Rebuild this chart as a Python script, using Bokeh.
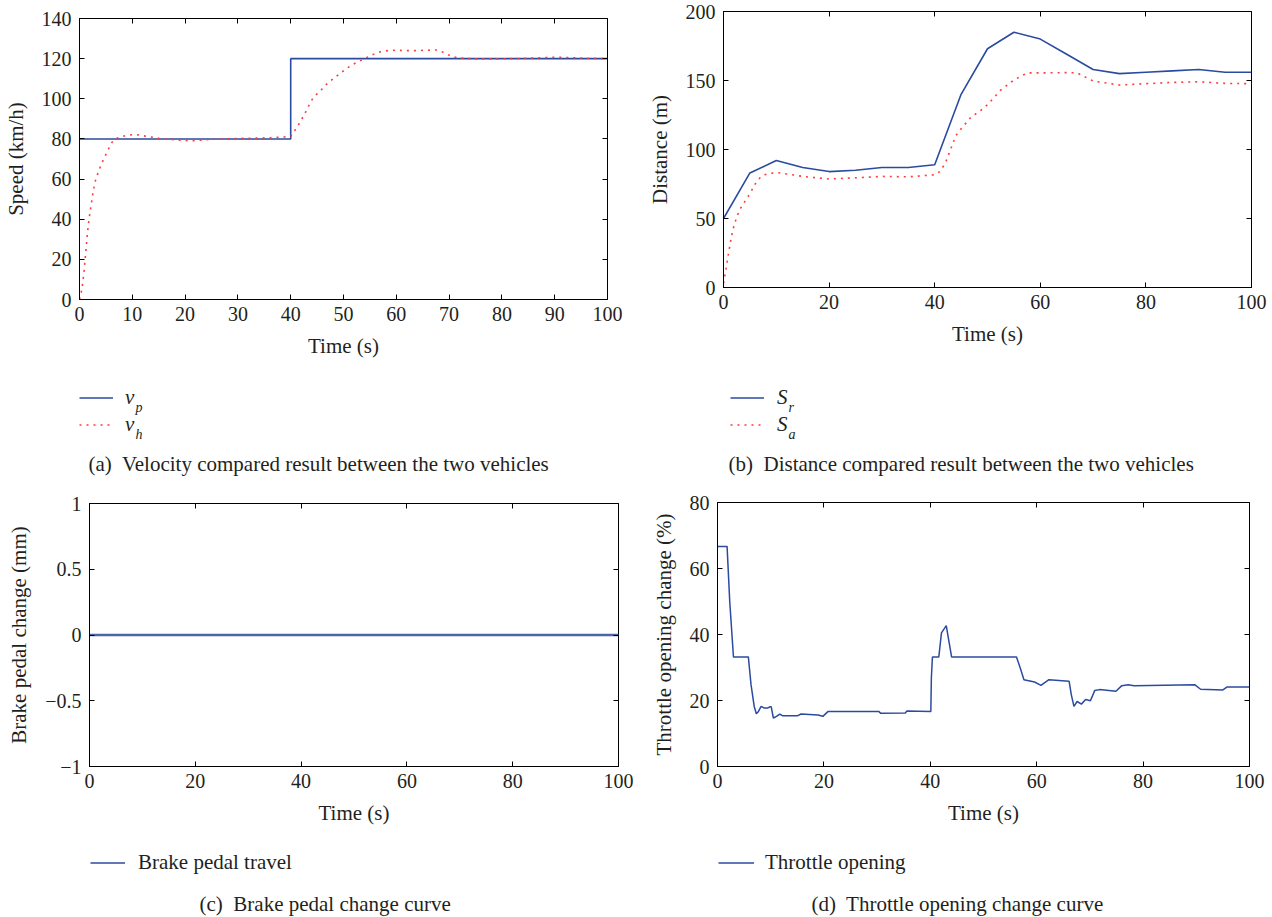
from bokeh.plotting import figure
from bokeh.models import (Range1d, FixedTicker, LinearAxis, Legend, LegendItem, Label,
                          CustomJSTickFormatter)
from bokeh.layouts import column, row
from bokeh.embed import file_html
from bokeh.resources import INLINE

FONT = "Liberation Serif"
TXT = "#231f20"
BLUE = "#2b4ba0"
BLUE2 = "#4d66a8"
RED = "#ff3b3b"

# ---------------- data ----------------
vp_t = [0, 40, 40, 100]
vp = [80, 80, 120, 120]

vh_t = [0, 0.3, 0.6, 0.9, 1.2, 1.5, 1.8, 2.2, 2.6, 3.0, 3.5, 4.0, 4.5, 5.0, 5.5, 6.0, 6.5, 7.0,
        8.0, 9.0, 10.5, 12.0, 13.5, 15.0, 17.0, 19.0, 21.0, 23.0, 25.0, 28.0, 31.0, 34.0, 37.0,
        40.0, 40.6, 41.3, 41.9, 42.5, 43.0, 43.5, 44.1, 44.9, 45.8, 46.6, 47.5, 48.4, 49.3, 50.2,
        51.2, 52.2, 53.2, 54.2, 55.2, 56.2, 57.2, 58.5, 60, 62, 64, 66, 67.5, 68.5, 69.5, 70.5,
        72, 75, 80, 85, 88, 90, 92, 95, 100]
vh = [0, 3, 8, 15, 24, 33, 40, 47, 54, 59, 63, 66.5, 69.5, 72.3, 75, 77.8, 79.3, 80.3,
      81.2, 81.8, 82.3, 81.6, 81, 80.3, 79.8, 79.4, 79, 79.4, 79.8, 80.1, 80.3, 80.4, 80.7,
      81.2, 83.5, 86.3, 89, 91.7, 94.3, 97, 99.8, 102.2, 104.5, 106.8, 108.8, 110.7, 112.5, 114.3,
      116.2, 117.7, 119, 120.3, 121.6, 122.8, 123.6, 124, 124.2, 124, 124, 124.2, 124.3, 123.6, 122.4, 121,
      120.3, 119.9, 119.9, 120.2, 120.5, 120.7, 120.6, 120.3, 120]

sr_t = [0, 5, 10, 15, 20, 25, 30, 35, 40, 45, 50, 55, 60, 65, 70, 75, 80, 85, 90, 95, 100]
sr = [50, 83, 92, 87, 84, 85, 87, 87, 89, 140, 173, 185, 180, 169, 158, 155, 156, 157, 158, 156, 156]

sa_t = [0, 0.5, 1, 1.5, 2, 2.5, 3, 4, 5, 6, 7, 8, 10, 12.5, 15, 20, 25, 30, 35, 40,
        41, 42, 43, 44, 45, 46, 47, 48.5, 50, 52.5, 55, 57.5, 60, 65, 67, 70, 75, 80, 85, 90, 95, 100]
sa = [3, 14, 26, 37, 45, 51, 56, 62, 68, 75, 80, 82, 83.3, 82, 80.5, 78.6, 79.5, 80.5, 80.2, 81.7,
      84, 90, 100, 110, 115, 119.5, 124, 127.5, 132.5, 143, 150.3, 155.5, 155.5, 155.7, 155.5, 149.6,
      146.7, 147.7, 148.6, 149.1, 147.9, 147.7]

brake_t = [0, 100]
brake = [0, 0]

thr_t = [0, 1.8, 2.3, 3.0, 5.8, 6.3, 6.9, 7.3, 7.7, 8.2, 8.8, 9.4, 9.9, 10.1, 10.5, 11.1, 11.7, 12.2,
         15.1, 15.7, 18.9, 19.8, 20.8, 30.3, 30.7, 35.3, 35.6, 40.1, 40.2, 40.4, 41.6, 42.1, 43.0, 44.0,
         56.2, 57.0, 57.6, 59.6, 60.8, 62.3, 66.1, 66.5, 67.0, 67.6, 68.4, 69.2, 70.1, 70.9, 71.8, 74.9,
         76.0, 77.2, 78.3, 89.7, 90.8, 95.0, 95.8, 100]
thr = [66.7, 66.7, 50, 33.2, 33.2, 24.8, 18.2, 16, 16.7, 18.2, 17.7, 17.7, 18.1, 18.1, 14.7, 15.2, 15.9, 15.4,
       15.4, 15.9, 15.6, 15.2, 16.7, 16.7, 16.1, 16.2, 16.8, 16.7, 26.8, 33.2, 33.2, 40.5, 42.7, 33.2,
       33.2, 29.4, 26.3, 25.6, 24.6, 26.3, 25.8, 21.8, 18.2, 19.7, 18.9, 20.3, 19.9, 23, 23.3, 22.8,
       24.5, 24.8, 24.5, 24.8, 23.4, 23.2, 24.1, 24.1]

a_xticks = [0, 10, 20, 30, 40, 50, 60, 70, 80, 90, 100]
a_yticks = [0, 20, 40, 60, 80, 100, 120, 140]
b_xticks = [0, 20, 40, 60, 80, 100]
b_yticks = [0, 50, 100, 150, 200]
c_yticks = [-1, -0.5, 0, 0.5, 1]
c_ylabels = {-1: "\u22121", -0.5: "\u22120.5", 0: "0", 0.5: "0.5", 1: "1"}
d_yticks = [0, 20, 40, 60, 80]

captions = ["(a)\u00a0 Velocity compared result between the two vehicles",
            "(b)\u00a0 Distance compared result between the two vehicles",
            "(c)\u00a0 Brake pedal change curve",
            "(d)\u00a0 Throttle opening change curve"]


def style_axis(ax, standoff):
    ax.axis_line_color = "black"
    ax.axis_line_width = 1
    ax.major_tick_in = 5
    ax.major_tick_out = 0
    ax.major_tick_line_color = "black"
    ax.minor_tick_line_color = None
    ax.major_label_standoff = standoff
    ax.major_label_text_font = FONT
    ax.major_label_text_font_size = "20px"
    ax.major_label_text_color = TXT
    ax.axis_label_text_font = FONT
    ax.axis_label_text_font_size = "21px"
    ax.axis_label_text_font_style = "normal"
    ax.axis_label_text_color = TXT


def make_fig(w, h, fl, fw, ft, fh, yr, xticks, yticks, ylabel):
    p = figure(width=w, height=h, frame_width=fw, frame_height=fh,
               min_border_left=fl, min_border_right=w - fl - fw,
               min_border_top=ft, min_border_bottom=h - ft - fh,
               x_range=Range1d(0, 100), y_range=Range1d(*yr),
               output_backend="svg", toolbar_location=None, tools="")
    p.grid.visible = False
    p.outline_line_color = "black"
    p.outline_line_width = 1
    p.xaxis.ticker = FixedTicker(ticks=xticks)
    p.yaxis.ticker = FixedTicker(ticks=yticks)
    style_axis(p.xaxis[0], 7)
    style_axis(p.yaxis[0], 8)
    p.xaxis.axis_label = "Time (s)"
    p.yaxis.axis_label = ylabel
    p.xaxis.axis_label_standoff = 10
    p.yaxis.axis_label_standoff = 11
    for loc, tk in (("above", xticks), ("right", yticks)):
        ax = LinearAxis(ticker=FixedTicker(ticks=tk),
                        formatter=CustomJSTickFormatter(code="return ''"))
        style_axis(ax, 0)
        ax.axis_line_color = None
        ax.major_label_text_font_size = "1px"
        p.add_layout(ax, loc)
    return p


def make_note(w, h):
    q = figure(width=w, height=h, x_range=Range1d(0, w), y_range=Range1d(h, 0),
               min_border=0, x_axis_type=None, y_axis_type=None,
               output_backend="svg", toolbar_location=None, tools="")
    q.grid.visible = False
    q.outline_line_color = None
    # series drawn here only as legend keys, on a range that keeps them out of view
    q.extra_y_ranges = {"key": Range1d(-1000, -900)}
    return q


def add_legend(q, series, labels, x, y, gw, standoff, italic):
    items = []
    for (xs, ys, st), lab in zip(series, labels):
        r = q.line(xs, ys, y_range_name="key", **st)
        items.append(LegendItem(label=lab, renderers=[r]))
    leg = Legend(items=items, location=(x, y), orientation="vertical",
                 glyph_width=gw, glyph_height=27, label_height=27, label_width=10,
                 spacing=0, padding=0, margin=0, label_standoff=standoff,
                 border_line_color=None, background_fill_alpha=0,
                 label_text_font=FONT, label_text_font_size="21px",
                 label_text_color=TXT,
                 label_text_font_style="italic" if italic else "normal")
    q.add_layout(leg)


def add_text(q, x, y, text, size="21px", style="normal", baseline="middle"):
    q.add_layout(Label(x=x, y=y, text=text,
                       text_font=FONT, text_font_size=size, text_font_style=style,
                       text_color=TXT, text_baseline=baseline, text_align="left"))


solid = dict(line_color=BLUE, line_width=1.6)
dotted = dict(line_color=RED, line_width=1.6, line_dash="2 5")

# (a) velocity
pa = make_fig(644, 372, 79, 528, 18, 281, (0, 140), a_xticks, a_yticks, "Speed (km/h)")
pa.line(vp_t, vp, **solid)
pa.line(vh_t, vh, **dotted)
na = make_note(644, 104)
add_legend(na, [(vp_t, vp, solid), (vh_t, vh, dotted)], ["v", "v"], 79, 38, 34, 12, True)
add_text(na, 135, 35, "p", "14px", "italic", "alphabetic")
add_text(na, 135, 62, "h", "14px", "italic", "alphabetic")
add_text(na, 88, 91, captions[0])

# (b) distance
pb = make_fig(628, 372, 77, 528, 11, 276, (0, 200), b_xticks, b_yticks, "Distance (m)")
pb.line(sr_t, sr, **solid)
pb.line(sa_t, sa, **dotted)
nb = make_note(628, 104)
add_legend(nb, [(sr_t, sr, solid), (sa_t, sa, dotted)], ["S", "S"], 86, 38, 34, 13, True)
add_text(nb, 144, 35, "r", "14px", "italic", "alphabetic")
add_text(nb, 144, 62, "a", "14px", "italic", "alphabetic")
add_text(nb, 84, 91, captions[1])

# (c) brake pedal
brake_style = dict(line_color=BLUE2, line_width=2.5)
pc = make_fig(644, 354, 89, 529, 27, 263, (-1, 1), b_xticks, c_yticks, "Brake pedal change (mm)")
pc.yaxis[0].major_label_overrides = c_ylabels
pc.line(brake_t, brake, **brake_style)
nc = make_note(644, 87)
add_legend(nc, [(brake_t, brake, dict(line_color=BLUE, line_width=1.6))],
           ["Brake pedal travel"], 90, 41, 35, 13, False)
add_text(nc, 199, 73, captions[2])

# (d) throttle
thr_style = dict(line_color=BLUE, line_width=1.5)
pd_ = make_fig(628, 354, 73, 532, 26, 264, (0, 80), b_xticks, d_yticks, "Throttle opening change (%)")
pd_.line(thr_t, thr, **thr_style)
nd = make_note(628, 87)
add_legend(nd, [(thr_t, thr, thr_style)], ["Throttle opening"], 74, 41, 36, 11, False)
add_text(nd, 167, 73, captions[3])

layout = column(row(column(pa), column(pb)), row(na, nb),
                row(column(pc), column(pd_)), row(nc, nd))
open("out.html", "w").write(file_html(layout, INLINE))
